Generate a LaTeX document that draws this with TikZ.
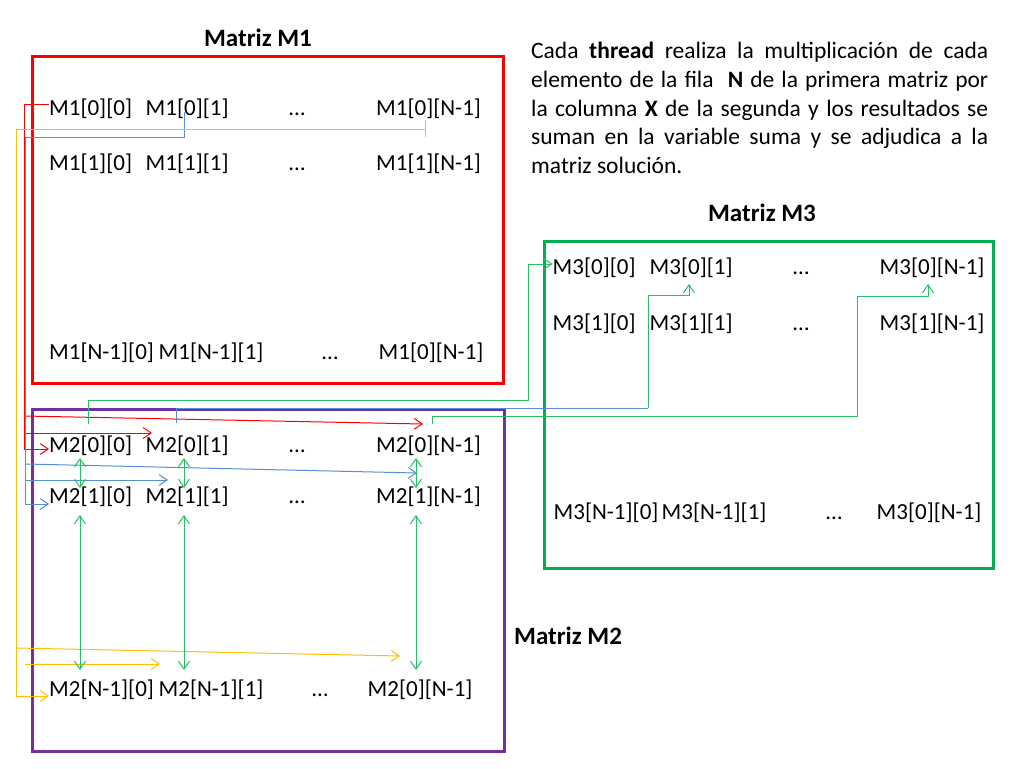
\documentclass[tikz,border=0pt]{standalone}
\usepackage{fontspec}
\setmainfont{Carlito}
\usetikzlibrary{arrows.meta}
\definecolor{cR}{RGB}{255,0,0}
\definecolor{cB}{RGB}{85,142,213}
\definecolor{cY}{RGB}{255,192,0}
\definecolor{cG}{RGB}{40,190,100}
\definecolor{bG}{RGB}{0,176,80}
\definecolor{bP}{RGB}{112,48,160}
\begin{document}
\begin{tikzpicture}[x=1pt,y=-1pt,
  cell/.style={anchor=base west,inner sep=0pt,font=\fontsize{23}{28}\selectfont},
  title/.style={inner sep=0pt,font=\fontsize{25}{30}\selectfont\bfseries},
  frame/.style={line width=3pt},
  link/.style={line width=1pt},
  tip/.style={-{Straight Barb[length=8pt,width=11pt]}},
  dtip/.style={{Straight Barb[length=8pt,width=11pt]}-{Straight Barb[length=8pt,width=11pt]}},
]
\useasboundingbox (0,0) rectangle (1024,768);
\fill[white] (0,0) rectangle (1024,768);

% frames
\draw[frame,cR] (32.5,57) rectangle (503,383);
\draw[frame,bP] (32.5,409) rectangle (504,751);
\draw[frame,bG] (544,241) rectangle (993,568);

% titles
\node[title] (t1) at (258,38) {Matriz M1};
\node[title] (t3) at (762,213) {Matriz M3};
\node[title,anchor=west] (t2) at (514,636) {Matriz M2};

% explanation
\node[anchor=north west,inner sep=0pt,text width=457pt,align=justify,
  font=\fontsize{23.5}{28.7}\selectfont]
  (txt) at (531,42) {\hyphenpenalty=10000\relax\exhyphenpenalty=10000\relax
  Cada \textbf{thread} realiza la multiplicación de cada\linebreak
  elemento de la fila \ \textbf{N} de la primera matriz por\linebreak
  la columna \textbf{X} de la segunda y los resultados se\linebreak
  suman en la variable suma y se adjudica a la\linebreak
  matriz solución.};

% M1 cells
\node[cell] (m1a) at (49,115) {M1[0][0]};
\node[cell] (m1b) at (145.5,115) {M1[0][1]};
\node[cell] (m1x) at (289,115) {…};
\node[cell] (m1c) at (376,115) {M1[0][N-1]};
\node[cell] (m1d) at (49,170.5) {M1[1][0]};
\node[cell] (m1e) at (145.5,170.5) {M1[1][1]};
\node[cell] (m1y) at (289,170.5) {…};
\node[cell] (m1f) at (376,170.5) {M1[1][N-1]};
\node[cell] (m1g) at (49,359) {M1[N-1][0]};
\node[cell] (m1h) at (158.5,359) {M1[N-1][1]};
\node[cell] (m1z) at (322,359) {…};
\node[cell] (m1i) at (378.5,359) {M1[0][N-1]};

% M2 cells
\node[cell] (m2a) at (49,452) {M2[0][0]};
\node[cell] (m2b) at (145.5,452) {M2[0][1]};
\node[cell] (m2x) at (289,452) {…};
\node[cell] (m2c) at (376,452) {M2[0][N-1]};
\node[cell] (m2d) at (49,503) {M2[1][0]};
\node[cell] (m2e) at (145.5,503) {M2[1][1]};
\node[cell] (m2y) at (289,503) {…};
\node[cell] (m2f) at (376,503) {M2[1][N-1]};
\node[cell] (m2g) at (49,696) {M2[N-1][0]};
\node[cell] (m2h) at (158.5,696) {M2[N-1][1]};
\node[cell] (m2z) at (312,696) {…};
\node[cell] (m2i) at (367.5,696) {M2[0][N-1]};

% M3 cells
\node[cell] (m3a) at (552.5,274) {M3[0][0]};
\node[cell] (m3b) at (649.5,274) {M3[0][1]};
\node[cell] (m3x) at (793,274) {…};
\node[cell] (m3c) at (879.5,274) {M3[0][N-1]};
\node[cell] (m3d) at (552.5,330) {M3[1][0]};
\node[cell] (m3e) at (649.5,330) {M3[1][1]};
\node[cell] (m3y) at (793,330) {…};
\node[cell] (m3f) at (879.5,330) {M3[1][N-1]};
\node[cell] (m3g) at (553.5,519) {M3[N-1][0]};
\node[cell] (m3h) at (661.5,519) {M3[N-1][1]};
\node[cell] (m3z) at (826,519) {…};
\node[cell] (m3i) at (876.5,519) {M3[0][N-1]};

% red: row 0 of M1
\coordinate (r0) at (24,104);
\coordinate (r1) at (24,416);
\coordinate (r2) at (24,433);
\coordinate (r3) at (24,449);
\coordinate (rt1) at (423,424);
\coordinate (rt2) at (152,433);
\draw[link,cR] (m1a.west |- r0) -- (r0) -- (r3);
\draw[link,cR,tip] (r3) -- (m2a.west |- r3);
\draw[link,cR,tip] (r1) -- (rt1);
\draw[link,cR,tip] (r2) -- (rt2);

% blue
\coordinate (b0) at (184,112);
\coordinate (b1) at (184,137);
\coordinate (b2) at (25,137);
\coordinate (b3) at (25,504);
\coordinate (b4) at (25,464);
\coordinate (b5) at (25,480);
\coordinate (bt1) at (417,473);
\coordinate (bt2) at (168,480);
\draw[link,cB] (b0) -- (b1) -- (b2) -- (b3);
\draw[link,cB,tip] (b3) -- (m2d.west |- b3);
\draw[link,cB,tip] (b4) -- (bt1);
\draw[link,cB,tip] (b5) -- (bt2);

% yellow
\coordinate (y0) at (425,129);
\coordinate (y1) at (16,129);
\coordinate (y2) at (16,696);
\coordinate (y3) at (16,648);
\coordinate (y4) at (25,664);
\coordinate (yt1) at (400,656);
\coordinate (yt2) at (160,664);
\draw[link,cY] (425,120) -- (425,137);
\draw[link,cY] (y0) -- (y1) -- (y2);
\draw[link,cY,tip] (y2) -- (m2g.west |- y2);
\draw[link,cY,tip] (y3) -- (yt1);
\draw[link,cY,tip] (y4) -- (yt2);

% results to M3
\coordinate (g0) at (88,424);
\draw[link,cG,tip] (g0) -- (88,400) -- (528,400) -- (528,264) -- (m3a.west |- 0,264);
\coordinate (g1) at (176,423);
\coordinate (g2) at (648,408);
\draw[link,cB] (g1) -- (176,408) -- (g2);
\draw[link,cG,tip] (g2) -- (648,295) -- (689,295) -- (689,284);
\coordinate (g3) at (432,424);
\draw[link,cG,tip] (g3) -- (432,416) -- (857,416) -- (857,296) -- (928,296) -- (928,284);

% column links in M2
\foreach \cx in {80,184,416}{
  \draw[link,cG,dtip] (\cx,458) -- (\cx,488);
  \draw[link,cG,dtip] (\cx,515) -- (\cx,670);
}
\end{tikzpicture}
\end{document}
